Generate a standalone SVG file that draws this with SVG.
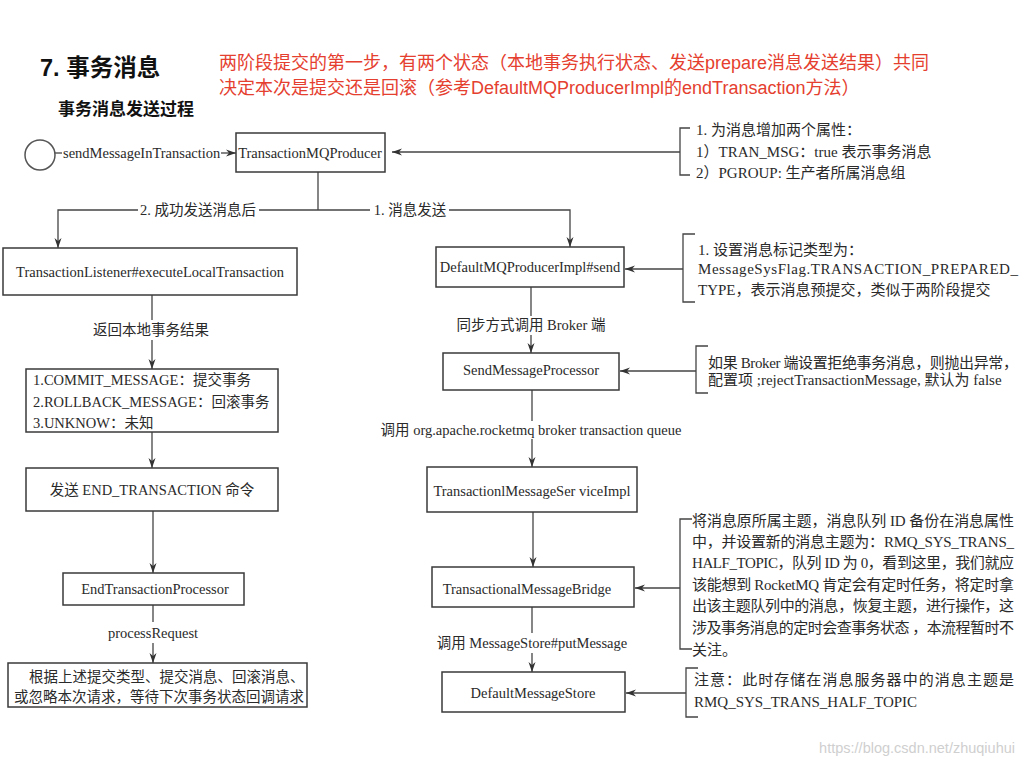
<svg xmlns="http://www.w3.org/2000/svg" width="1024" height="768" viewBox="0 0 1024 768">
<style>
.bg{fill:#ffffff}
.box{fill:#ffffff;stroke:#3a3a3a;stroke-width:1.5}
.ln{fill:none;stroke:#444;stroke-width:1.3}
.br{fill:none;stroke:#444;stroke-width:1.3}
.t{font-family:"Liberation Serif","Noto Sans CJK SC",serif;font-size:14.5px;fill:#2a2a2a}
.a{font-family:"Liberation Serif","Noto Sans CJK SC",serif;font-size:15px;fill:#2a2a2a}
.c{text-anchor:middle}
.title{font-family:"Liberation Sans","Noto Sans CJK SC",sans-serif;font-weight:bold;fill:#111}
.red{font-family:"Liberation Sans","Noto Sans CJK SC",sans-serif;font-size:18px;fill:#e5402f}
.wm{font-family:"Liberation Sans","Noto Sans CJK SC",sans-serif;font-size:14.5px;fill:#cfcfcf;text-anchor:end}
</style>
<defs>
<marker id="arr" viewBox="0 0 10 10" refX="10" refY="5" markerWidth="10" markerHeight="10" markerUnits="userSpaceOnUse" orient="auto">
<path d="M0,1.5 L10,5 L0,8.5 L3,5 z" fill="#333"/>
</marker>
</defs>
<rect class="bg" x="0" y="0" width="1024" height="768"/>

<g id="header">
<text class="title" x="40" y="76" font-size="23.5">7. 事务消息</text>
<text class="title" x="58" y="115" font-size="17">事务消息发送过程</text>
<text class="red" x="219" y="69">两阶段提交的第一步，有两个状态（本地事务执行状态、发送prepare消息发送结果）共同</text>
<text class="red" x="219" y="94">决定本次是提交还是回滚（参考DefaultMQProducerImpl的endTransaction方法）</text>
</g>

<g id="connectors">
<line class="ln" x1="55" y1="153" x2="62" y2="153"/>
<line class="ln" x1="221" y1="153" x2="236" y2="153" marker-end="url(#arr)"/>
<line class="ln" x1="680" y1="152" x2="392" y2="152" marker-end="url(#arr)"/>
<line class="ln" x1="318" y1="172" x2="318" y2="210"/>
<polyline class="ln" points="138,210 58,210 58,248" marker-end="url(#arr)"/>
<line class="ln" x1="259" y1="210" x2="370" y2="210"/>
<polyline class="ln" points="449,210 570,210 570,247" marker-end="url(#arr)"/>
<line class="ln" x1="152" y1="295" x2="152" y2="320"/>
<line class="ln" x1="152" y1="340" x2="152" y2="369" marker-end="url(#arr)"/>
<line class="ln" x1="152" y1="432" x2="152" y2="468" marker-end="url(#arr)"/>
<line class="ln" x1="153" y1="511" x2="153" y2="573" marker-end="url(#arr)"/>
<line class="ln" x1="153" y1="605" x2="153" y2="622"/>
<line class="ln" x1="153" y1="643" x2="153" y2="663" marker-end="url(#arr)"/>
<line class="ln" x1="683" y1="269" x2="625" y2="269" marker-end="url(#arr)"/>
<line class="ln" x1="531" y1="287" x2="531" y2="316"/>
<line class="ln" x1="531" y1="335" x2="531" y2="353" marker-end="url(#arr)"/>
<line class="ln" x1="696" y1="371" x2="620" y2="371" marker-end="url(#arr)"/>
<line class="ln" x1="532" y1="390" x2="532" y2="421"/>
<line class="ln" x1="532" y1="439" x2="532" y2="467" marker-end="url(#arr)"/>
<line class="ln" x1="533" y1="512" x2="533" y2="567" marker-end="url(#arr)"/>
<line class="ln" x1="680" y1="588" x2="635" y2="588" marker-end="url(#arr)"/>
<line class="ln" x1="532" y1="607" x2="532" y2="633"/>
<line class="ln" x1="532" y1="653" x2="532" y2="672" marker-end="url(#arr)"/>
<line class="ln" x1="686" y1="693" x2="626" y2="693" marker-end="url(#arr)"/>
<text class="t c" x="198" y="215">2. 成功发送消息后</text>
<text class="t c" x="410" y="215">1. 消息发送</text>
<text class="t c" x="151" y="335">返回本地事务结果</text>
<text class="t c" x="153" y="638">processRequest</text>
<text class="t c" x="531" y="330">同步方式调用 Broker 端</text>
<text class="t c" x="531" y="435">调用 org.apache.rocketmq broker transaction queue</text>
<text class="t c" x="532" y="648">调用 MessageStore#putMessage</text>
</g>

<g id="start">
<circle cx="40" cy="155" r="15" fill="none" stroke="#555" stroke-width="1.5"/>
<text class="t" x="63" y="158">sendMessageInTransaction</text>
</g>

<g id="n-producer">
<rect class="box" x="236" y="133" width="149" height="39"/>
<text class="t c" x="310" y="158">TransactionMQProducer</text>
</g>

<g id="note-producer">
<path class="br" d="M690,128 H680 V175 H690"/>
<text class="a" x="696" y="135">1. 为消息增加两个属性：</text>
<text class="a" x="696" y="157">1）TRAN_MSG：true 表示事务消息</text>
<text class="a" x="696" y="178">2）PGROUP: 生产者所属消息组</text>
</g>

<g id="n-listener">
<rect class="box" x="3" y="248" width="294" height="47"/>
<text class="t c" x="150" y="277">TransactionListener#executeLocalTransaction</text>
</g>

<g id="n-result">
<rect class="box" x="26" y="369" width="252" height="63"/>
<text class="t" x="33" y="385">1.COMMIT_MESSAGE：提交事务</text>
<text class="t" x="33" y="407">2.ROLLBACK_MESSAGE：回滚事务</text>
<text class="t" x="33" y="428">3.UNKNOW：未知</text>
</g>

<g id="n-endcmd">
<rect class="box" x="26" y="468" width="252" height="43"/>
<text class="t c" x="152" y="495">发送 END_TRANSACTION 命令</text>
</g>

<g id="n-endproc">
<rect class="box" x="63" y="573" width="181" height="32"/>
<text class="t c" x="155" y="594">EndTransactionProcessor</text>
</g>

<g id="n-final">
<rect class="box" x="8" y="663" width="299" height="44"/>
<text class="t" x="29" y="682">根据上述提交类型、提交消息、回滚消息、</text>
<text class="t" x="14" y="702">或忽略本次请求，等待下次事务状态回调请求</text>
</g>

<g id="n-send">
<rect class="box" x="436" y="247" width="188" height="40"/>
<text class="t c" x="530" y="272">DefaultMQProducerImpl#send</text>
</g>

<g id="note-send">
<path class="br" d="M695,234 H683 V302 H695"/>
<text class="a" x="698" y="255">1. 设置消息标记类型为：</text>
<text class="a" x="698" y="274" textLength="320" lengthAdjust="spacing">MessageSysFlag.TRANSACTION_PREPARED_</text>
<text class="a" x="698" y="295">TYPE，表示消息预提交，类似于两阶段提交</text>
</g>

<g id="n-smp">
<rect class="box" x="443" y="353" width="176" height="37"/>
<text class="t c" x="531" y="375">SendMessageProcessor</text>
</g>

<g id="note-smp">
<path class="br" d="M708,346 H696 V393 H708"/>
<text class="a" x="708" y="368" textLength="310" lengthAdjust="spacing">如果 Broker 端设置拒绝事务消息，则抛出异常，</text>
<text class="a" x="708" y="385">配置项 ;rejectTransactionMessage, 默认为 false</text>
</g>

<g id="n-service">
<rect class="box" x="427" y="467" width="210" height="45"/>
<text class="t c" x="532" y="496">TransactionlMessageSer viceImpl</text>
</g>

<g id="n-bridge">
<rect class="box" x="432" y="567" width="202" height="40"/>
<text class="t c" x="527" y="594">TransactionalMessageBridge</text>
</g>

<g id="note-bridge">
<path class="br" d="M692,519 H680 V649 H692"/>
<text class="a" x="692" y="526" textLength="322" lengthAdjust="spacing">将消息原所属主题，消息队列 ID 备份在消息属性</text>
<text class="a" x="692" y="547" textLength="322" lengthAdjust="spacing">中，并设置新的消息主题为：RMQ_SYS_TRANS_</text>
<text class="a" x="692" y="568" textLength="322" lengthAdjust="spacing">HALF_TOPIC，队列 ID 为 0，看到这里，我们就应</text>
<text class="a" x="692" y="590" textLength="322" lengthAdjust="spacing">该能想到 RocketMQ 肯定会有定时任务，将定时拿</text>
<text class="a" x="692" y="611" textLength="322" lengthAdjust="spacing">出该主题队列中的消息，恢复主题，进行操作，这</text>
<text class="a" x="692" y="633" textLength="322" lengthAdjust="spacing">涉及事务消息的定时会查事务状态 ，本流程暂时不</text>
<text class="a" x="692" y="655">关注。</text>
</g>

<g id="n-store">
<rect class="box" x="442" y="672" width="183" height="40"/>
<text class="t c" x="533" y="698">DefaultMessageStore</text>
</g>

<g id="note-store">
<path class="br" d="M698,668 H686 V717 H698"/>
<text class="a" x="694" y="685" textLength="320" lengthAdjust="spacing">注意：此时存储在消息服务器中的消息主题是</text>
<text class="a" x="694" y="707">RMQ_SYS_TRANS_HALF_TOPIC</text>
</g>

<text class="wm" x="1015" y="753">https://blog.csdn.net/zhuqiuhui</text>
</svg>
